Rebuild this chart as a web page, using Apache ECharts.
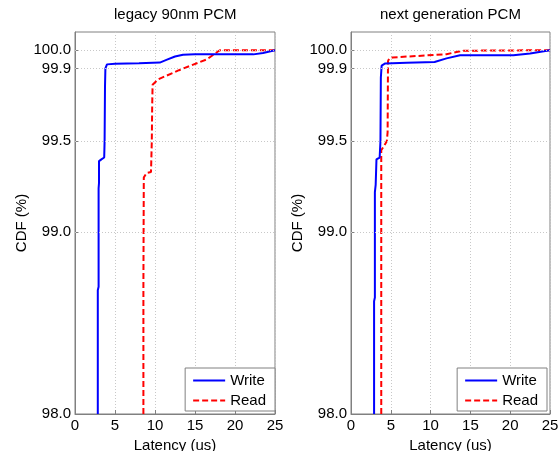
<!DOCTYPE html>
<html><head><meta charset="utf-8">
<script src="https://cdn.jsdelivr.net/npm/echarts@6/dist/echarts.min.js"></script>
<style>html,body{margin:0;padding:0;background:#fff}#c{width:559px;height:451px}</style>
</head><body><div id="c"></div>
<script>
const titles = ['legacy 90nm PCM', 'next generation PCM'];
const seriesNames = ['Write', 'Read'];
const yTicks = [98.0, 99.0, 99.5, 99.9, 100.0];
const yGrid = [99.0, 99.5, 99.9, 100.0];
// [latency (us), CDF (%)]
const legacyWrite = [[2.85,98.0],[2.85,98.68],[2.95,98.7],[2.95,99.24],[3.0,99.27],[3.0,99.39],[3.3,99.40],[3.65,99.41],[3.7,99.5],[3.75,99.8],[3.8,99.9],[4.0,99.922],[5,99.926],[8,99.928],[10.6,99.932],[11.5,99.948],[12.5,99.965],[13.5,99.975],[15,99.977],[22.3,99.977],[23.5,99.985],[25,100.0]];
const legacyRead = [[8.55,98.0],[8.55,98.7],[8.6,99.30],[8.95,99.325],[9.5,99.33],[9.6,99.5],[9.65,99.7],[9.7,99.81],[10.4,99.84],[13,99.89],[16.5,99.95],[18.1,100.0],[25,100.0]];
const nextWrite = [[2.9,98.0],[2.9,98.62],[3.0,98.64],[3.0,99.22],[3.1,99.26],[3.2,99.40],[3.6,99.41],[3.7,99.5],[3.75,99.85],[3.85,99.915],[4.3,99.927],[7,99.931],[10.5,99.935],[12,99.955],[13.7,99.972],[20.4,99.972],[22.5,99.982],[25,100.0]];
const nextRead = [[3.8,98.0],[3.8,99.45],[4.1,99.47],[4.5,99.5],[4.6,99.55],[4.65,99.94],[4.8,99.955],[5.2,99.96],[12,99.978],[14,99.997],[25,100.0]];

const FONT = '"Liberation Sans", Arial, sans-serif';
const FS = 15;
const chart = echarts.init(document.getElementById('c'), null, {renderer:'canvas'});
const grids = [
  {left:75, top:32, width:200, height:382},
  {left:351, top:32, width:199, height:382}
];
const gridCommon = {show:true, borderColor:'#808080', borderWidth:1, backgroundColor:'#fff', containLabel:false, outerBoundsMode:'none'};
const xAxes = [0,1].map(i=>({
  type:'value', gridIndex:i, min:0, max:25, interval:5,
  name:'Latency (us)', nameLocation:'middle', nameGap:20,
  nameTextStyle:{color:'#000', fontSize:FS, fontFamily:FONT},
  axisLine:{show:true, lineStyle:{color:'#808080'}},
  axisTick:{show:true, inside:true, length:4, lineStyle:{color:'#808080'}},
  axisLabel:{color:'#000', fontSize:FS, fontFamily:FONT, margin:4, showMaxLabel:true, showMinLabel:true},
  splitLine:{show:true, lineStyle:{color:'#c8c8c8', type:[1,2], width:1}}
}));
const yAxes = [0,1].map(i=>({
  type:'value', gridIndex:i, min:98, max:100.1,
  name:'CDF (%)', nameLocation:'middle', nameGap:44, nameRotate:90,
  nameTextStyle:{color:'#000', fontSize:FS, fontFamily:FONT},
  axisLine:{show:true, lineStyle:{color:'#808080'}},
  axisTick:{show:true, inside:true, length:4, customValues:yTicks, lineStyle:{color:'#808080'}},
  axisLabel:{color:'#000', fontSize:FS, fontFamily:FONT, margin:4, customValues:yTicks,
    formatter:v=>Number(v).toFixed(1)},
  splitLine:{show:false}
}));
const gridLineMark = {
  silent:true, symbol:'none', label:{show:false},
  lineStyle:{color:'#c8c8c8', type:[1,2], width:1},
  data: yGrid.map(v=>({yAxis:v}))
};
function mk(name, data, gi, color, dashed, withMark){
  const s = {
    name, type:'line', xAxisIndex:gi, yAxisIndex:gi, data,
    showSymbol:false, symbol:'none', animation:false,
    lineStyle:{color, width:2, type: dashed ? [6,3] : 'solid'},
    itemStyle:{color}, z: dashed ? 3 : 4
  };
  if(withMark) s.markLine = gridLineMark;
  return s;
}
const legends = [0,1].map(i=>({
  data:seriesNames, orient:'vertical',
  right: i===0 ? 284 : 12, top:368,
  backgroundColor:'#fff', borderColor:'#808080', borderWidth:1,
  padding:[5,9,3,7], itemGap:5, itemWidth:32, itemHeight:14,
  itemStyle:{opacity:0},
  textStyle:{color:'#000', fontSize:FS, fontFamily:FONT},
  selectedMode:false
}));
chart.setOption({
  animation:false,
  title: titles.map((t,i)=>({
    text:t, left: i===0 ? 109 : 375, top:2,
    textStyle:{color:'#000', fontSize:FS, fontWeight:'normal', fontFamily:FONT}
  })),
  grid: grids.map(g=>Object.assign({}, gridCommon, g)),
  xAxis: xAxes, yAxis: yAxes,
  legend: legends,
  series:[
    mk(seriesNames[0], legacyWrite, 0, '#0000ff', false, true),
    mk(seriesNames[1], legacyRead, 0, '#ff0000', true, false),
    mk(seriesNames[0], nextWrite, 1, '#0000ff', false, true),
    mk(seriesNames[1], nextRead, 1, '#ff0000', true, false)
  ]
});
</script></body></html>
